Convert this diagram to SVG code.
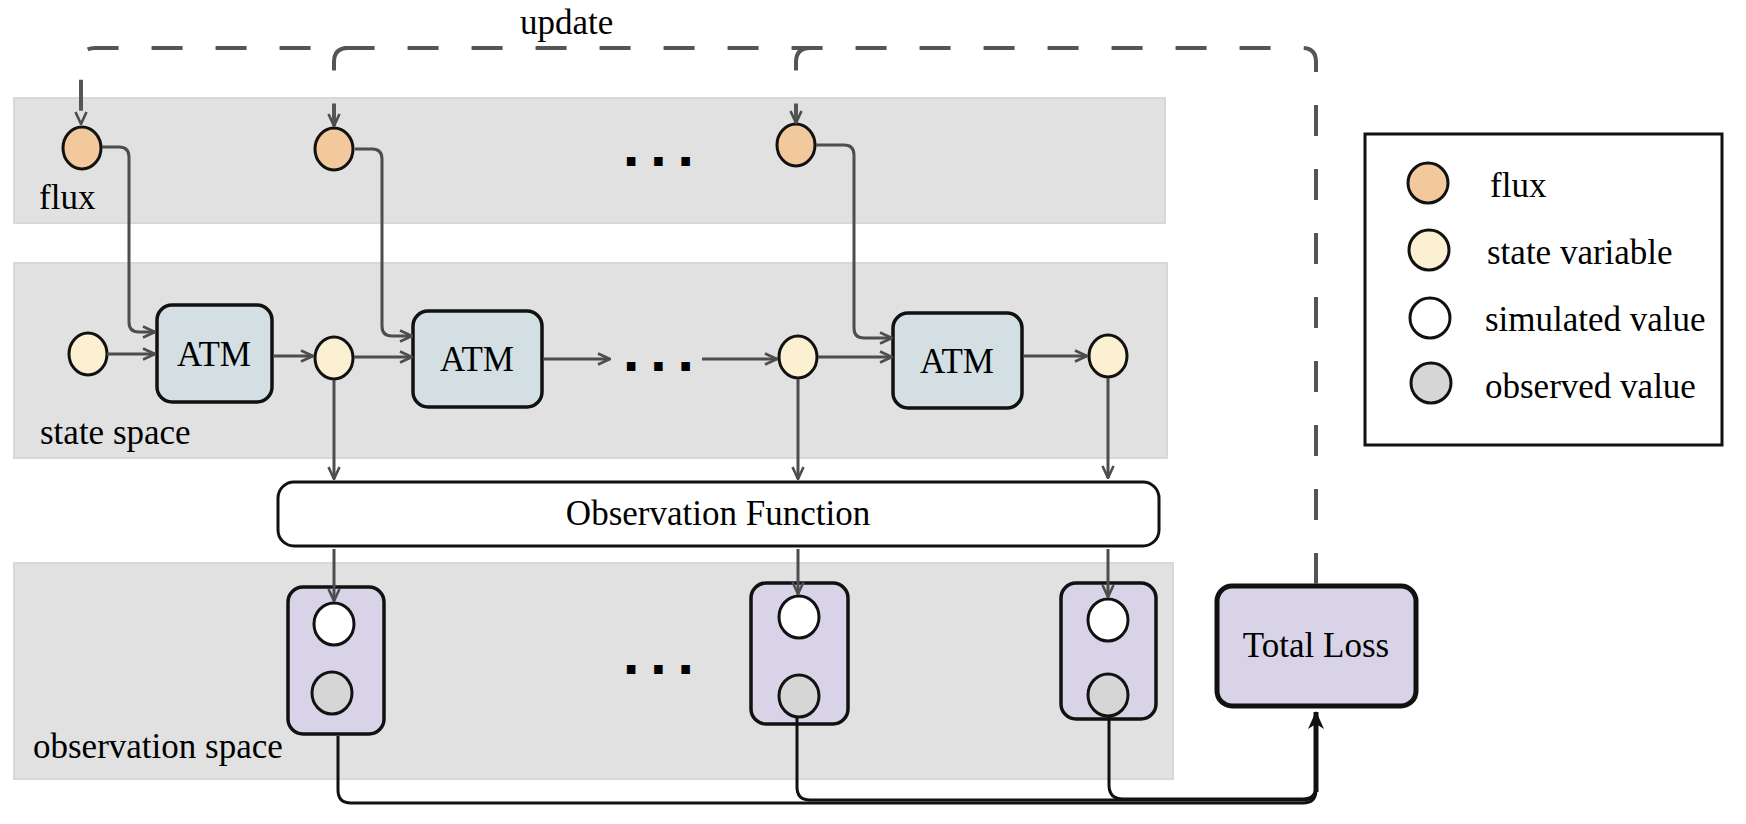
<svg xmlns="http://www.w3.org/2000/svg" width="1746" height="824" viewBox="0 0 1746 824">
<defs>
<style>
.band{fill:#e1e1e1;stroke:#d8d8d8;stroke-width:2}
.lbl{font-family:"Liberation Serif","Times New Roman",serif;font-size:35px;fill:#000}
.ctr{text-anchor:middle}
.dots{font-family:"DejaVu Sans",sans-serif;font-weight:bold;font-size:48px;letter-spacing:9px;fill:#000}
.flux{fill:#f2c99c;stroke:#111;stroke-width:3}
.state{fill:#fcf0d2;stroke:#111;stroke-width:3}
.sim{fill:#ffffff;stroke:#111;stroke-width:3}
.obs{fill:#d6d6d6;stroke:#111;stroke-width:3}
.atm{fill:#d4dfe3;stroke:#111;stroke-width:3.5}
.cont{fill:#d8d3e6;stroke:#111;stroke-width:3.5}
.conn{fill:none;stroke:#4d4d4d;stroke-width:3}
.dash{fill:none;stroke:#555;stroke-width:4;stroke-dasharray:31 33}
.sum{fill:none;stroke:#111;stroke-width:3}
</style>
<marker id="arr" viewBox="0 0 14 14" refX="13" refY="7" markerWidth="14" markerHeight="14" markerUnits="userSpaceOnUse" orient="auto">
<path d="M1,1.5 L13,7 L1,12.5" fill="none" stroke="#4d4d4d" stroke-width="2.6"/>
</marker>
<marker id="arrB" viewBox="0 0 18 18" refX="17" refY="9" markerWidth="18" markerHeight="18" markerUnits="userSpaceOnUse" orient="auto">
<path d="M0,1 L18,9 L0,17 L5,9 Z" fill="#111"/>
</marker>
</defs>

<g id="bands">
<rect class="band" x="14" y="98" width="1151" height="125"/>
<rect class="band" x="14" y="263" width="1153" height="195"/>
<rect class="band" x="14" y="563" width="1159" height="216"/>
<text class="lbl" x="39" y="209">flux</text>
<text class="lbl" x="40" y="444">state space</text>
<text class="lbl" x="33" y="758">observation space</text>
<text class="dots" x="622" y="166">...</text>
<text class="dots" x="622" y="371">...</text>
<text class="dots" x="622" y="674">...</text>
<text class="lbl" x="520" y="34">update</text>
</g>

<g id="flux-nodes">
<ellipse class="flux" cx="82" cy="148" rx="19" ry="21"/>
<ellipse class="flux" cx="334" cy="149" rx="19" ry="21"/>
<ellipse class="flux" cx="796" cy="145" rx="19" ry="21"/>
</g>

<g id="state-nodes">
<ellipse class="state" cx="88" cy="354" rx="19" ry="21"/>
<ellipse class="state" cx="334" cy="358" rx="19" ry="21"/>
<ellipse class="state" cx="798" cy="357" rx="19" ry="21"/>
<ellipse class="state" cx="1108" cy="356" rx="19" ry="21"/>
</g>

<g id="atm1">
<rect class="atm" x="157" y="305" width="115" height="97" rx="15"/>
<text class="lbl ctr" x="214" y="366" font-size="33">ATM</text>
</g>
<g id="atm2">
<rect class="atm" x="413" y="311" width="129" height="96" rx="15"/>
<text class="lbl ctr" x="477" y="371" font-size="33">ATM</text>
</g>
<g id="atm3">
<rect class="atm" x="893" y="313" width="129" height="95" rx="15"/>
<text class="lbl ctr" x="957" y="373" font-size="33">ATM</text>
</g>

<g id="observation-function">
<rect fill="#fff" stroke="#111" stroke-width="3" x="278" y="482" width="881" height="64" rx="16"/>
<text class="lbl ctr" x="718" y="525">Observation Function</text>
</g>

<g id="obs1">
<rect class="cont" x="288" y="587" width="96" height="147" rx="15"/>
<ellipse class="sim" cx="334" cy="624" rx="20" ry="21"/>
<ellipse class="obs" cx="332" cy="693" rx="20" ry="21"/>
</g>
<g id="obs2">
<rect class="cont" x="751" y="583" width="97" height="141" rx="15"/>
<ellipse class="sim" cx="799" cy="617" rx="20" ry="21"/>
<ellipse class="obs" cx="799" cy="696" rx="20" ry="21"/>
</g>
<g id="obs3">
<rect class="cont" x="1061" y="583" width="95" height="136" rx="15"/>
<ellipse class="sim" cx="1108" cy="620" rx="20" ry="21"/>
<ellipse class="obs" cx="1108" cy="695" rx="20" ry="21"/>
</g>

<g id="total-loss">
<rect fill="#d8d3e6" stroke="#111" stroke-width="5" x="1217" y="586" width="199" height="120" rx="15"/>
<text class="lbl ctr" x="1316" y="657" font-size="34">Total Loss</text>
</g>

<g id="legend">
<rect fill="#fff" stroke="#111" stroke-width="3" x="1365" y="134" width="357" height="311"/>
<ellipse class="flux" cx="1428" cy="183" rx="20" ry="20"/>
<ellipse class="state" cx="1429" cy="250" rx="20" ry="20"/>
<ellipse class="sim" cx="1430" cy="318" rx="20" ry="20"/>
<ellipse class="obs" cx="1431" cy="383" rx="20" ry="20"/>
<text class="lbl" x="1490" y="197">flux</text>
<text class="lbl" x="1487" y="264">state variable</text>
<text class="lbl" x="1485" y="331">simulated value</text>
<text class="lbl" x="1485" y="398">observed value</text>
</g>

<g id="connectors">
<path class="dash" d="M1316 584 V62 Q1316 48 1302 48 H95 Q81 48 81 62 V124" marker-end="url(#arr)"/>
<path class="dash" d="M348 48 Q334 48 334 62 V126" marker-end="url(#arr)"/>
<path class="dash" d="M810 48 Q796 48 796 62 V123" marker-end="url(#arr)"/>

<path class="conn" d="M102 147 H119 Q129 147 129 157 V322 Q129 332 139 332 H155" marker-end="url(#arr)"/>
<path class="conn" d="M355 149 H372 Q382 149 382 159 V326 Q382 336 392 336 H412" marker-end="url(#arr)"/>
<path class="conn" d="M816 145 H844 Q854 145 854 155 V328 Q854 338 864 338 H892" marker-end="url(#arr)"/>

<path class="conn" d="M107 354 H155" marker-end="url(#arr)"/>
<path class="conn" d="M273 356 H313" marker-end="url(#arr)"/>
<path class="conn" d="M354 357 H412" marker-end="url(#arr)"/>
<path class="conn" d="M543 359 H610" marker-end="url(#arr)"/>
<path class="conn" d="M702 359 H777" marker-end="url(#arr)"/>
<path class="conn" d="M818 357 H892" marker-end="url(#arr)"/>
<path class="conn" d="M1023 356 H1087" marker-end="url(#arr)"/>

<path class="conn" d="M334 380 V479" marker-end="url(#arr)"/>
<path class="conn" d="M798 379 V479" marker-end="url(#arr)"/>
<path class="conn" d="M1108 378 V478" marker-end="url(#arr)"/>

<path class="conn" d="M334 549 V601" marker-end="url(#arr)"/>
<path class="conn" d="M798 549 V594" marker-end="url(#arr)"/>
<path class="conn" d="M1108 549 V597" marker-end="url(#arr)"/>

<path class="sum" d="M338 736 V790 Q338 803 351 803 H1303 Q1316 803 1316 790 V730"/>
<path class="sum" d="M797 718 V787 Q797 800 810 800 H1303 Q1316 800 1316 787 V730"/>
<path class="sum" d="M1109 717 V785 Q1109 799 1123 799 H1303 Q1316 799 1316 786 V730"/>
<path fill="none" stroke="#111" stroke-width="5" d="M1316 792 V712" marker-end="url(#arrB)"/>
</g>
</svg>
